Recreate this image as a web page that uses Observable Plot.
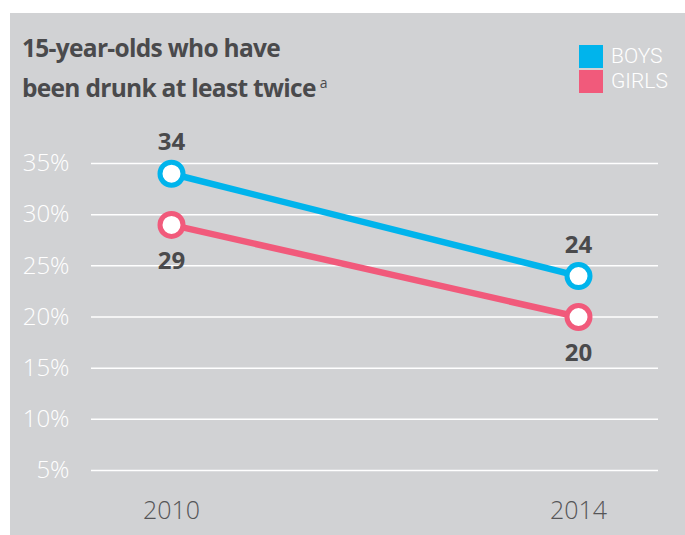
<!DOCTYPE html>
<html>
<head>
<meta charset="utf-8">
<script src="https://cdn.jsdelivr.net/npm/d3@7"></script>
<script src="https://cdn.jsdelivr.net/npm/@observablehq/plot@0.6"></script>
<style>
  html, body { margin: 0; padding: 0; background: #ffffff; }
  #panel { position: absolute; left: 10px; top: 13px; width: 675px; height: 522px; background: #d1d2d4; font-family: "Open Sans", sans-serif; }
  #title { position: absolute; left: 12px; top: 17px; font-size: 24.5px; font-weight: 700; color: #4a4a4c; line-height: 35px; letter-spacing: -0.7px; }
  #title sup { font-size: 14px; font-weight: 400; vertical-align: 9px; margin-left: 4px; letter-spacing: 0; }
  #legend { position: absolute; left: 569px; top: 31px; }
  .lg { display: flex; align-items: center; height: 25px; color: #ffffff; font-family: Roboto, "Open Sans", sans-serif; font-size: 21px; font-weight: 300; line-height: 21px; }
  .sw { width: 24px; height: 23px; margin-right: 8px; }
  #chart { position: absolute; left: 0; top: 100px; }
</style>
</head>
<body>
<div id="panel">
  <div id="title">15-year-olds who have<br>been drunk at least twice<sup>a</sup></div>
  <div id="legend"></div>
  <div id="chart"></div>
</div>
<script>
const years = ["2010", "2014"];
const seriesNames = ["BOYS", "GIRLS"];
const boys = [34, 24];
const girls = [29, 20];
const yTicks = [5, 10, 15, 20, 25, 30, 35];
const colors = ["#00b4ec", "#f15a7b"];

const data = [];
years.forEach((yr, i) => data.push({year: yr, series: "BOYS", value: boys[i]}));
years.forEach((yr, i) => data.push({year: yr, series: "GIRLS", value: girls[i]}));

const legend = document.getElementById("legend");
seriesNames.forEach((s, i) => {
  const row = document.createElement("div");
  row.className = "lg";
  row.innerHTML = `<div class="sw" style="background:${colors[i]}"></div><span>${s}</span>`;
  legend.appendChild(row);
});

const chart = Plot.plot({
  width: 675,
  height: 422,
  marginLeft: 81,
  marginRight: 27,
  marginTop: 50,
  marginBottom: 65,
  style: {fontFamily: "Open Sans, sans-serif", background: "transparent", overflow: "visible"},
  x: {type: "point", domain: years, padding: 0.195},
  y: {domain: [5, 35]},
  color: {domain: seriesNames, range: colors},
  marks: [
    Plot.gridY(yTicks, {stroke: "#ffffff", strokeOpacity: 1, strokeWidth: 1.5}),
    Plot.axisY(yTicks, {tickSize: 0, tickPadding: 22, tickFormat: d => d + "%", fill: "#ffffff", fontSize: 24, fontWeight: 300, label: null}),
    Plot.axisX({tickSize: 0, tickPadding: 31, fill: "#555557", fontSize: 25, fontWeight: 300, label: null}),
    Plot.line(data, {x: "year", y: "value", z: "series", stroke: "series", strokeWidth: 6.5}),
    Plot.dot(data, {x: "year", y: "value", r: 11.5, fill: "#ffffff", stroke: "series", strokeWidth: 5}),
    Plot.text(data.filter(d => d.series === "BOYS"), {x: "year", y: "value", text: d => String(d.value), dy: -31, fill: "#4a4a4c", fontSize: 24, fontWeight: 700}),
    Plot.text(data.filter(d => d.series === "GIRLS"), {x: "year", y: "value", text: d => String(d.value), dy: 36, fill: "#4a4a4c", fontSize: 24, fontWeight: 700})
  ]
});
document.getElementById("chart").appendChild(chart);
</script>
</body>
</html>
